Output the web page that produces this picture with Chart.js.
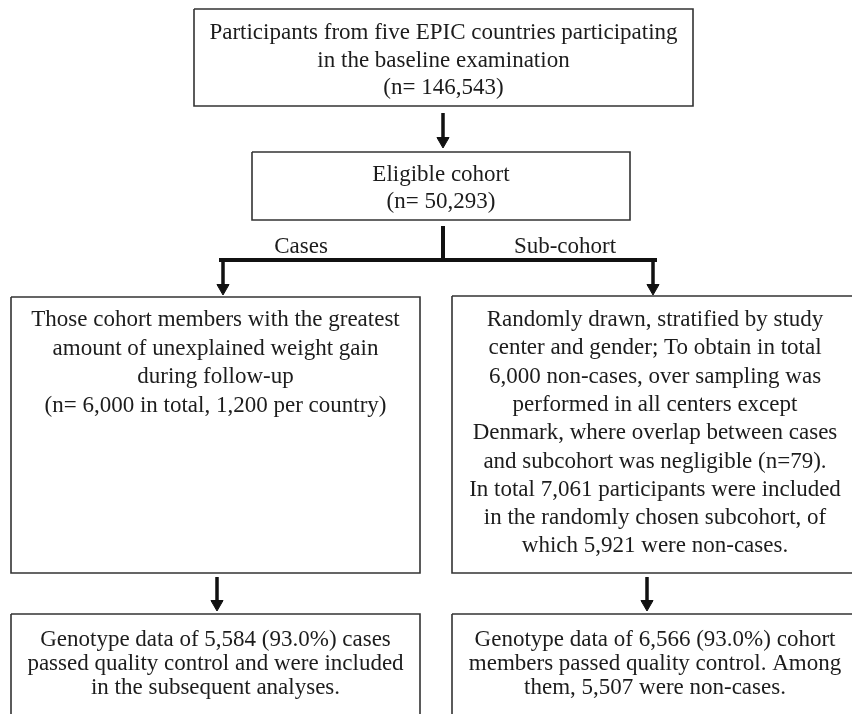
<!DOCTYPE html>
<html>
<head>
<meta charset="utf-8">
<script src="https://cdn.jsdelivr.net/npm/chart.js@4.4.0/dist/chart.umd.min.js"></script>
<style>
  html, body { margin: 0; padding: 0; background: #fff; }
  canvas { display: block; }
</style>
</head>
<body>
<canvas id="flow" width="852" height="714"></canvas>
<script>
// Box texts (the chart's content)
const topLines = ['Participants from five EPIC countries participating', 'in the baseline examination', '(n= 146,543)'];
const eligibleLines = ['Eligible cohort', '(n= 50,293)'];
const branchLabels = ['Cases', 'Sub-cohort'];
const casesLines = [
    'Those cohort members with the greatest',
    'amount of unexplained weight gain',
    'during follow-up',
    '(n= 6,000 in total, 1,200 per country)'
];
const subcohortLines = [
    'Randomly drawn, stratified by study',
    'center and gender; To obtain in total',
    '6,000 non-cases, over sampling was',
    'performed in all centers except',
    'Denmark, where overlap between cases',
    'and subcohort was negligible (n=79).',
    'In total 7,061 participants were included',
    'in the randomly chosen subcohort, of',
    'which 5,921 were non-cases.'
];
const casesResultLines = ['Genotype data of 5,584 (93.0%) cases', 'passed quality control and were included', 'in the subsequent analyses.'];
const subcohortResultLines = ['Genotype data of 6,566 (93.0%) cohort', 'members passed quality control. Among', 'them, 5,507 were non-cases.'];

// Layout in axis units (the axes run 0..852 across and 0..714 down)
const boxes = [
    { lines: topLines, left: 194, right: 693, top: 9, bottom: 106, firstLine: 33, lineGap: 27.5 },
    { lines: eligibleLines, left: 252, right: 630, top: 152, bottom: 220, firstLine: 175, lineGap: 27 },
    { lines: casesLines, left: 11, right: 420, top: 297, bottom: 573, firstLine: 320, lineGap: 28.5 },
    { lines: subcohortLines, left: 452, right: 858, top: 296, bottom: 573, firstLine: 320, lineGap: 28.3 },
    { lines: casesResultLines, left: 11, right: 420, top: 614, bottom: 720, firstLine: 640, lineGap: 24 },
    { lines: subcohortResultLines, left: 452, right: 858, top: 614, bottom: 720, firstLine: 640, lineGap: 24 }
];
const arrows = [
    { x: 443, from: 113, to: 148 },
    { x: 223, from: 260, to: 295 },
    { x: 653, from: 260, to: 295 },
    { x: 217, from: 577, to: 611 },
    { x: 647, from: 577, to: 611 }
];
const plainLines = [
    [{ x: 443, y: 228 }, { x: 443, y: 260 }],
    [{ x: 221, y: 260 }, { x: 655, y: 260 }]
];
const labelPos = [{ x: 301, y: 247 }, { x: 565, y: 247 }];

const HEAD_R = 7;
const FONT = '23px "Liberation Serif"';
const SQUEEZE = 1.0;

const datasets = [];

// box outlines as closed polylines
boxes.forEach(function(b) {
    datasets.push({
        data: [
            { x: b.left, y: b.top }, { x: b.right, y: b.top },
            { x: b.right, y: b.bottom }, { x: b.left, y: b.bottom },
            { x: b.left, y: b.top }
        ],
        showLine: true,
        borderColor: '#333',
        borderWidth: 1.6,
        pointRadius: 0,
        clip: false
    });
});

// connector lines
plainLines.forEach(function(seg) {
    datasets.push({
        data: seg,
        showLine: true,
        borderColor: '#111',
        borderWidth: 4,
        borderCapStyle: 'square',
        pointRadius: 0
    });
});

// arrows: shaft plus a triangle head
arrows.forEach(function(a) {
    datasets.push({
        data: [{ x: a.x, y: a.from }, { x: a.x, y: a.to - HEAD_R }],
        showLine: true,
        borderColor: '#111',
        borderWidth: 3.5,
        pointRadius: 0
    });
    datasets.push({
        data: [{ x: a.x, y: a.to - HEAD_R }],
        showLine: false,
        pointStyle: 'triangle',
        pointRotation: 180,
        pointRadius: HEAD_R,
        pointBackgroundColor: '#111',
        pointBorderColor: '#111',
        pointBorderWidth: 1
    });
});

const textPlugin = {
    id: 'boxText',
    afterDatasetsDraw: function(chart) {
        const ctx = chart.ctx;
        const xs = chart.scales.x;
        const ys = chart.scales.y;
        ctx.save();
        ctx.font = FONT;
        ctx.fillStyle = '#1c1c1c';
        ctx.textAlign = 'center';
        ctx.textBaseline = 'middle';
        function put(text, x, y) {
            ctx.save();
            ctx.translate(xs.getPixelForValue(x), ys.getPixelForValue(y));
            ctx.scale(SQUEEZE, 1);
            ctx.fillText(text, 0, 0);
            ctx.restore();
        }
        boxes.forEach(function(b) {
            const cx = (b.left + b.right) / 2;
            b.lines.forEach(function(line, i) {
                put(line, cx, b.firstLine + i * b.lineGap);
            });
        });
        branchLabels.forEach(function(lbl, i) {
            put(lbl, labelPos[i].x, labelPos[i].y);
        });
        ctx.restore();
    }
};

new Chart(document.getElementById('flow').getContext('2d'), {
    type: 'scatter',
    data: { datasets: datasets },
    options: {
        responsive: false,
        animation: false,
        devicePixelRatio: 1,
        layout: { padding: 0, autoPadding: false },
        plugins: { legend: { display: false }, tooltip: { enabled: false } },
        scales: {
            x: { type: 'linear', min: 0, max: 852, display: false },
            y: { type: 'linear', min: 0, max: 714, reverse: true, display: false }
        }
    },
    plugins: [textPlugin]
});
</script>
</body>
</html>
